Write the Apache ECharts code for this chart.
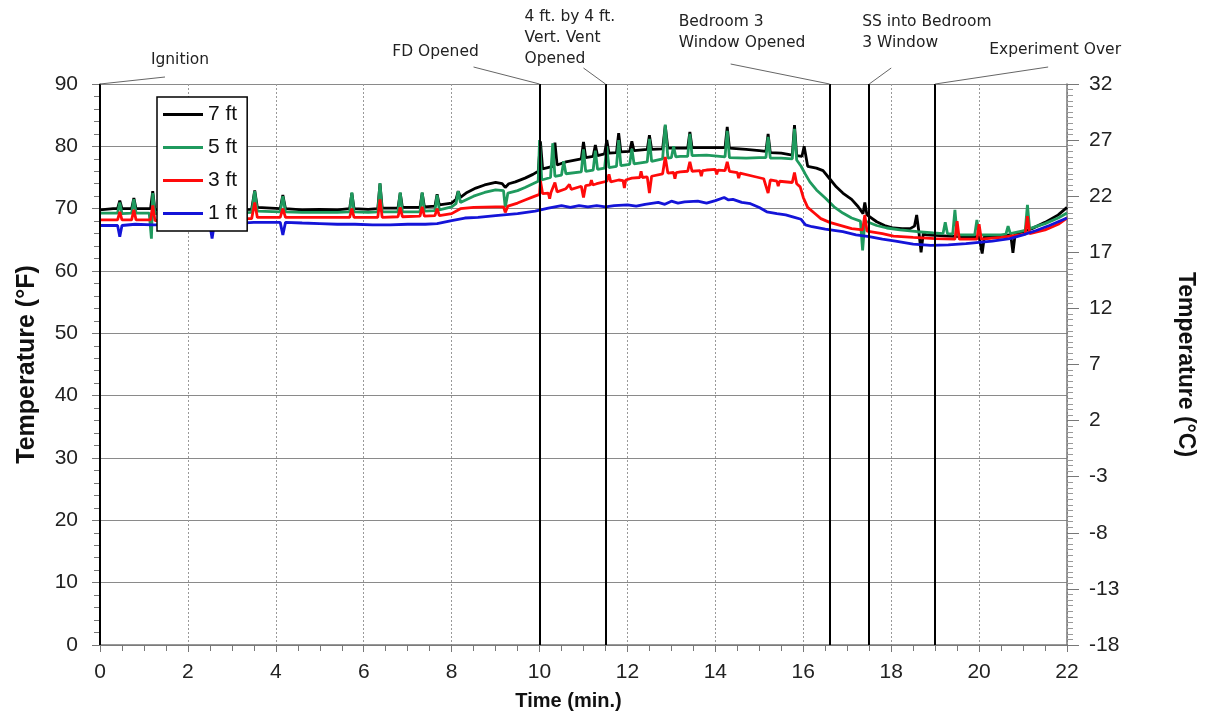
<!DOCTYPE html>
<html>
<head>
<meta charset="utf-8">
<script src="https://cdn.jsdelivr.net/npm/echarts@6/dist/echarts.min.js"></script>
<style>
html,body{margin:0;padding:0;background:#fff;}
#main{width:1209px;height:715px;}
</style>
</head>
<body>
<div id="main"></div>
<script>
// ---- data (time in minutes, temperature in °F) ----
const seriesNames = ['7 ft', '5 ft', '3 ft', '1 ft'];

const ft7 = [[0,69.8],[0.3,70],[0.4,70],[0.45,71.3],[0.5,70],[0.72,70],[0.77,71.7],[0.82,70],[1.15,70],[1.2,72.8],[1.25,69.8],[1.6,69.8],[2.0,69.8],[2.5,69.7],[3.0,69.8],[3.45,69.9],[3.52,72.9],[3.58,70.2],[4.1,70],[4.16,72.2],[4.22,70],[4.6,69.8],[5.0,69.9],[5.4,69.8],[5.68,70],[5.73,72.5],[5.78,70],[6.1,69.9],[6.32,70],[6.37,74],[6.42,70.1],[6.78,70.1],[6.83,72.5],[6.88,70.2],[7.28,70.2],[7.33,72.5],[7.38,70.3],[7.62,70.4],[7.67,72.3],[7.72,70.6],[8.0,70.9],[8.1,71.5],[8.15,72.8],[8.2,71.8],[8.35,72.6],[8.55,73.3],[8.75,73.8],[9.0,74.2],[9.15,74],[9.22,73.4],[9.3,74],[9.45,74.3],[9.67,74.9],[9.85,75.5],[9.97,76],[10.02,80.8],[10.07,76.4],[10.3,76.8],[10.35,80.6],[10.4,77],[10.6,77.5],[10.95,78],[11.0,80.7],[11.05,78.2],[11.22,78.4],[11.27,80.2],[11.32,78.5],[11.48,78.8],[11.53,81],[11.58,78.9],[11.75,79],[11.8,82.1],[11.85,79.1],[12.05,79.2],[12.1,80.8],[12.15,79.3],[12.45,79.5],[12.5,81.8],[12.55,79.5],[12.8,79.6],[12.86,83.3],[12.92,79.7],[13.2,79.7],[13.37,79.7],[13.42,82.3],[13.47,79.8],[13.8,79.8],[14.22,79.8],[14.27,83.1],[14.32,79.7],[14.7,79.5],[15.0,79.3],[15.15,79.2],[15.2,82],[15.25,79],[15.5,78.9],[15.75,78.6],[15.8,83.4],[15.85,78.5],[15.97,78.4],[16.02,80],[16.1,76.8],[16.3,76.5],[16.45,76.1],[16.6,74.8],[16.75,73.5],[16.9,72.5],[17.1,71.5],[17.25,70.3],[17.36,69.2],[17.4,71],[17.45,69],[17.67,67.9],[17.85,67.3],[18.05,66.9],[18.25,66.8],[18.43,66.8],[18.53,67.2],[18.58,69],[18.63,66.3],[18.68,63],[18.73,66],[18.8,65.8],[19.0,65.7],[19.3,65.6],[19.6,65.5],[20.0,65.5],[20.07,62.8],[20.12,65.5],[20.4,65.6],[20.72,65.8],[20.77,62.9],[20.82,65.9],[21.2,66.8],[21.5,67.8],[21.8,69],[22,70.2]];

const ft5 = [[0,69.3],[0.4,69.3],[0.45,71],[0.5,69.2],[0.72,69.3],[0.77,71.5],[0.82,69.3],[1.12,69.3],[1.17,65.2],[1.2,72.5],[1.25,69.2],[1.6,69.3],[2.0,69.2],[2.5,69.2],[3.0,69.3],[3.45,69.4],[3.52,72.8],[3.58,69.6],[4.1,69.5],[4.16,72],[4.22,69.5],[4.6,69.4],[5.0,69.4],[5.4,69.4],[5.68,69.5],[5.73,72.6],[5.78,69.5],[6.1,69.4],[6.32,69.5],[6.37,74.1],[6.42,69.5],[6.78,69.5],[6.83,72.6],[6.88,69.5],[7.28,69.5],[7.33,72.6],[7.38,69.6],[7.62,69.7],[7.67,72.2],[7.72,69.8],[8.0,70.3],[8.1,70.8],[8.15,72.8],[8.2,71],[8.5,72],[8.75,72.6],[9.0,73],[9.18,72.9],[9.22,70.2],[9.28,72.5],[9.5,72.9],[9.67,73.4],[9.85,74],[9.97,74.4],[10.0,81],[10.05,74.6],[10.25,75],[10.3,80.5],[10.35,75.2],[10.5,75.4],[10.55,77.6],[10.6,75.6],[10.95,75.9],[11.0,79.5],[11.05,76],[11.22,76.2],[11.27,79.3],[11.32,76.3],[11.48,76.5],[11.53,80],[11.58,76.6],[11.75,76.8],[11.8,81],[11.85,76.9],[12.05,77.1],[12.1,79.6],[12.15,77.2],[12.45,77.5],[12.5,81.2],[12.55,77.6],[12.8,78],[12.86,83.5],[12.92,78.1],[13.0,78.2],[13.05,80],[13.1,78.3],[13.2,78.4],[13.37,78.4],[13.42,82],[13.47,78.5],[13.8,78.6],[14.22,78.3],[14.27,82.5],[14.32,78.2],[14.7,78.1],[15.0,78.2],[15.15,78.2],[15.2,81.5],[15.25,78.1],[15.5,78.1],[15.75,78],[15.8,82.8],[15.85,77.8],[15.95,76.8],[16.05,75.5],[16.15,74.3],[16.3,73],[16.5,71.7],[16.7,70.3],[16.9,69.3],[17.1,68.5],[17.3,68],[17.35,63.3],[17.4,68],[17.45,67.9],[17.67,67.3],[17.9,66.9],[18.2,66.6],[18.6,66.3],[18.96,66.1],[19.18,66],[19.23,67.8],[19.28,66],[19.4,65.9],[19.45,69.8],[19.5,65.8],[19.9,65.8],[19.95,68.2],[20.0,65.8],[20.5,65.8],[20.61,65.9],[20.66,67.2],[20.71,66],[21.05,66.5],[21.1,70.6],[21.15,66.8],[21.5,67.6],[21.8,68.5],[22,69.3]];

const ft3 = [[0,68.2],[0.4,68.2],[0.45,69.5],[0.5,68.2],[0.72,68.2],[0.77,69.8],[0.82,68.2],[1.15,68.2],[1.2,70.5],[1.25,68.1],[1.6,68.2],[2.0,68.2],[2.5,68.3],[3.0,68.4],[3.45,68.4],[3.52,71],[3.58,68.6],[4.1,68.6],[4.16,70],[4.22,68.6],[4.6,68.6],[5.0,68.6],[5.4,68.6],[5.68,68.6],[5.73,70],[5.78,68.6],[6.32,68.6],[6.37,71.5],[6.42,68.6],[6.78,68.7],[6.83,70.2],[6.88,68.7],[7.28,68.8],[7.33,70.3],[7.38,68.8],[7.62,68.9],[7.67,70],[7.72,68.9],[8.0,69.2],[8.2,70],[8.5,70.2],[9.0,70.3],[9.18,70.3],[9.22,69.4],[9.28,70.4],[9.5,70.9],[9.67,71.4],[9.85,71.9],[10.0,72.3],[10.02,74.5],[10.07,72.4],[10.2,72.5],[10.23,71.6],[10.26,72.6],[10.3,72.6],[10.35,74.2],[10.4,72.7],[10.6,73.2],[10.68,73.9],[10.72,73.1],[10.95,73.6],[11.0,71.8],[11.05,73.7],[11.15,73.8],[11.18,74.6],[11.21,73.8],[11.3,74],[11.53,74.4],[11.58,75.5],[11.62,74.3],[11.8,74.6],[11.9,74.5],[11.93,73.3],[11.96,74.6],[12.1,74.9],[12.28,75],[12.31,76],[12.34,75],[12.45,75.1],[12.5,72.5],[12.55,75.2],[12.8,75.6],[12.86,78.3],[12.92,75.7],[13.05,75.8],[13.08,74.8],[13.11,75.8],[13.2,75.9],[13.37,76],[13.42,77.5],[13.47,76],[13.65,76.1],[13.68,75.2],[13.71,76.1],[13.8,76.2],[14.0,76.3],[14.03,75.5],[14.06,76.2],[14.22,76.1],[14.27,77.5],[14.32,76],[14.5,75.8],[14.53,74.9],[14.56,75.7],[14.6,75.6],[14.86,75.2],[15.1,74.8],[15.2,72.5],[15.25,74.6],[15.4,74.4],[15.43,73.6],[15.46,74.4],[15.5,74.3],[15.75,74.2],[15.8,75.8],[15.85,74],[15.93,73.5],[16.0,71.8],[16.1,70.2],[16.25,69.3],[16.4,68.4],[16.6,67.8],[16.9,67.2],[17.1,66.8],[17.35,66.6],[17.4,69],[17.45,66.4],[17.8,66],[18.05,65.6],[18.5,65.4],[19.0,65.2],[19.45,65.1],[19.5,68],[19.55,65.1],[19.95,65.1],[20.0,67.5],[20.05,65.1],[20.5,65.4],[21.05,65.9],[21.1,68.8],[21.15,66],[21.5,66.6],[21.8,67.5],[22,68.5]];

const ft1 = [[0,67.3],[0.4,67.3],[0.45,65.5],[0.5,67.3],[0.8,67.5],[1.2,67.4],[1.6,67.4],[2.0,67.5],[2.5,67.4],[2.55,65.2],[2.6,67.5],[3.0,67.6],[3.5,67.8],[4.1,67.8],[4.16,65.8],[4.22,67.8],[4.6,67.7],[5.0,67.6],[5.4,67.5],[5.8,67.5],[6.2,67.4],[6.6,67.4],[7.0,67.5],[7.4,67.5],[7.67,67.6],[8.0,68.1],[8.3,68.5],[8.6,68.6],[9.0,68.9],[9.5,69.2],[9.9,69.6],[10.2,70.1],[10.5,70.5],[10.7,70.2],[10.9,70.5],[11.1,70.3],[11.3,70.5],[11.5,70.3],[11.7,70.5],[12.0,70.6],[12.2,70.4],[12.4,70.7],[12.7,71],[12.85,70.7],[13.0,71.2],[13.15,70.9],[13.3,71.1],[13.6,71.2],[13.8,70.9],[14.0,71.3],[14.2,71.8],[14.3,71.4],[14.4,71.5],[14.6,71],[14.8,70.8],[15.0,70.2],[15.17,69.5],[15.4,69.2],[15.6,69],[15.8,68.6],[15.95,68.3],[16.05,67.4],[16.2,67.1],[16.5,66.7],[16.9,66.3],[17.2,65.8],[17.5,65.5],[17.8,65.1],[18.1,64.8],[18.5,64.3],[18.9,64.1],[19.3,64.2],[19.7,64.4],[20.0,64.6],[20.3,64.8],[20.7,65.2],[21.0,65.8],[21.3,66.5],[21.6,67.3],[22,68.5]];

// event markers
const eventTimes = [0, 10, 11.5, 16.6, 17.5, 19.0];
const eventLabels = ['Ignition', 'FD Opened', '4 ft. by 4 ft.\nVert. Vent\nOpened', 'Bedroom 3\nWindow Opened', 'SS into Bedroom\n3 Window', 'Experiment Over'];

// right-axis (°C) tick labels, one per 9 °F step from 0 to 90 °F
const celsiusTickLabels = ['-18', '-13', '-8', '-3', '2', '7', '12', '17', '22', '27', '32'];

// ---- chart ----
const colors = ['#000000', '#1f9a5e', '#ff0a0a', '#1414d8'];
const FONT = 'Liberation Sans, Arial, sans-serif';
const chart = echarts.init(document.getElementById('main'), null, {renderer: 'canvas'});

const dataSets = [ft7, ft5, ft3, ft1];
const series = dataSets.map((d, i) => ({
  name: seriesNames[i],
  type: 'line',
  data: d,
  showSymbol: false,
  symbol: 'none',
  lineStyle: {color: colors[i], width: 2.8},
  itemStyle: {color: colors[i]},
  z: 2 + i,
  animation: false,
  silent: true
}));
series[0].markLine = {
  silent: true,
  symbol: ['none', 'none'],
  label: {show: false},
  lineStyle: {color: '#000', width: 2, type: 'solid'},
  data: eventTimes.map(t => ({xAxis: t})),
  animation: false,
  z: 10
};

const option = {
  backgroundColor: '#fff',
  animation: false,
  grid: {left: 100, right: 142, top: 84, bottom: 70, containLabel: false, outerBoundsMode: 'none'},
  legend: {
    data: seriesNames,
    orient: 'vertical',
    left: 157, top: 97,
    backgroundColor: '#fff',
    borderColor: '#000', borderWidth: 1.5, borderRadius: 0,
    padding: [7, 10, 7, 6],
    itemGap: 12,
    itemWidth: 40, itemHeight: 3,
    icon: 'rect',
    textStyle: {fontSize: 21, fontFamily: FONT, color: '#111'},
    z: 20
  },
  xAxis: {
    type: 'value', min: 0, max: 22, interval: 2,
    name: 'Time (min.)', nameLocation: 'middle', nameGap: 46,
    nameTextStyle: {fontSize: 20, fontWeight: 'bold', fontFamily: FONT, color: '#111', padding: [0, 30, 0, 0]},
    axisLine: {show: true, onZero: false, lineStyle: {color: '#777', width: 1.5}},
    axisTick: {show: true, inside: false, length: 7, lineStyle: {color: '#777'}},
    minorTick: {show: true, splitNumber: 4, length: 6, lineStyle: {color: '#777'}},
    axisLabel: {fontSize: 21, fontFamily: FONT, color: '#222', margin: 17},
    splitLine: {show: true, lineStyle: {color: '#999', type: [2, 2], width: 1}}
  },
  yAxis: [{
    type: 'value', min: 0, max: 90, interval: 10, position: 'left',
    name: 'Temperature (°F)', nameLocation: 'middle', nameGap: 60,
    nameTextStyle: {fontSize: 25, fontWeight: 'bold', fontFamily: FONT, color: '#111'},
    axisLine: {show: true, lineStyle: {color: '#777', width: 1.5}},
    axisTick: {show: true, inside: false, length: 8, lineStyle: {color: '#777'}},
    minorTick: {show: true, splitNumber: 5, length: 6, lineStyle: {color: '#777'}},
    axisLabel: {fontSize: 21, fontFamily: FONT, color: '#222', margin: 22},
    splitLine: {show: true, lineStyle: {color: '#8a8a8a', width: 1.2}}
  }, {
    type: 'value', min: 0, max: 90, interval: 9, position: 'right',
    name: 'Temperature (°C)', nameLocation: 'middle', nameGap: 107, nameRotate: -90,
    nameTextStyle: {fontSize: 23, fontWeight: 'bold', fontFamily: FONT, color: '#111'},
    axisLine: {show: true, lineStyle: {color: '#777', width: 1.5}},
    axisTick: {show: true, inside: false, length: 12, lineStyle: {color: '#777'}},
    minorTick: {show: true, splitNumber: 10, length: 6, lineStyle: {color: '#999'}},
    axisLabel: {
      fontSize: 21, fontFamily: FONT, color: '#222', margin: 22,
      formatter: v => celsiusTickLabels[Math.round(v / 9)]
    },
    splitLine: {show: false}
  }],
  series: series
};
chart.setOption(option);

// ---- event annotations (placed relative to each event line's top) ----
const annLayout = [
  {lx: 65, ly: -7, tx: 80, ty: -35, align: 'center'},
  {lx: -66, ly: -17, tx: -104, ty: -43, align: 'center'},
  {lx: -22, ly: -16, tx: -81, ty: -78, align: 'left'},
  {lx: -99, ly: -20, tx: -151, ty: -73, align: 'left'},
  {lx: 22, ly: -16, tx: -7, ty: -73, align: 'left'},
  {lx: 113, ly: -17, tx: 120, ty: -45, align: 'center'}
];
const topY = chart.convertToPixel({yAxisIndex: 0}, 90);
const graphics = [];
eventTimes.forEach((t, i) => {
  const x = chart.convertToPixel({xAxisIndex: 0}, t);
  const L = annLayout[i];
  graphics.push({
    type: 'line', silent: true, z: 30,
    shape: {x1: x, y1: topY, x2: x + L.lx, y2: topY + L.ly},
    style: {stroke: '#666', lineWidth: 1}
  });
  graphics.push({
    type: 'text', silent: true, z: 30,
    x: x + L.tx, y: topY + L.ty,
    style: {
      text: eventLabels[i], fill: '#222',
      font: '15.5px "DejaVu Sans", Verdana, sans-serif',
      align: L.align, verticalAlign: 'top', lineHeight: 21
    }
  });
});
chart.setOption({graphic: graphics});
</script>
</body>
</html>
